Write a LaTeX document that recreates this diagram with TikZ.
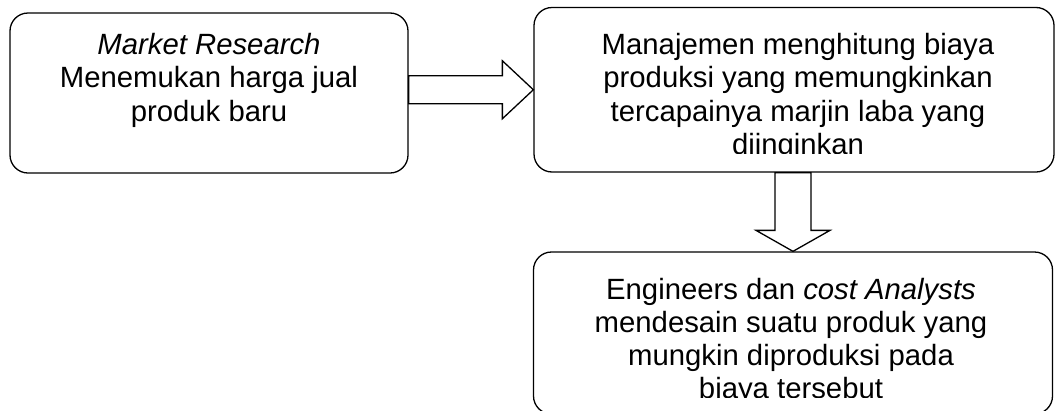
\documentclass[tikz,border=0pt]{standalone}
\usepackage{fontspec}
\setmainfont{Liberation Sans}
\usetikzlibrary{calc}
\begin{document}
\begin{tikzpicture}[x=1pt,y=-1pt,
  box/.style={draw, line width=1.3pt, rounded corners=18pt, inner sep=0pt},
  txt/.style={align=center, inner sep=0pt, anchor=north, font=\fontsize{29.3}{33.2}\selectfont},
  blockarrow/.style={draw, line width=1.3pt, fill=white, line join=miter}]
\useasboundingbox (0,0) rectangle (1057,410);
\node[box, minimum width=398pt, minimum height=160pt] (b1) at (209,93) {};
\node[box, minimum width=520pt, minimum height=164.5pt] (b2) at (794,89.75) {};
\node[box, minimum width=519pt, minimum height=162pt] (b3) at (793,333) {};
% right block arrow
\coordinate (s1) at (b1.east |- b2.west);
\coordinate (h1) at ($(b2.west)+(-31,0)$);
\draw[blockarrow] ($(s1)+(0,-14)$) -- ($(h1)+(0,-14)$) -- ($(h1)+(0,-29)$) -- (b2.west)
  -- ($(h1)+(0,29)$) -- ($(h1)+(0,14)$) -- ($(s1)+(0,14)$) -- cycle;
% down block arrow
\coordinate (s2) at (b3.north |- b2.south);
\coordinate (h2) at ($(b3.north)+(0,-21)$);
\draw[blockarrow] ($(s2)+(-18,0)$) -- ($(h2)+(-18,0)$) -- ($(h2)+(-37,0)$) -- (b3.north)
  -- ($(h2)+(37,0)$) -- ($(h2)+(18,0)$) -- ($(s2)+(18,0)$) -- cycle;
% texts
\node[txt] (t1) at (209,31.3) {\strut\textit{Market Research}\\Menemukan harga jual\\produk baru};
\begin{scope}
\clip (533,0) rectangle (1057,153);
\node[txt] (t2) at (798,31.3) {\strut Manajemen menghitung biaya\\produksi yang memungkinkan\\tercapainya marjin laba yang\\diinginkan};
\end{scope}
\begin{scope}
\clip (533,252) rectangle (1057,397.5);
\node[txt] (t3) at (791,275.6) {\strut Engineers dan \textit{cost Analysts}\\mendesain suatu produk yang\\mungkin diproduksi pada\\biaya tersebut};
\end{scope}
\end{tikzpicture}
\end{document}
